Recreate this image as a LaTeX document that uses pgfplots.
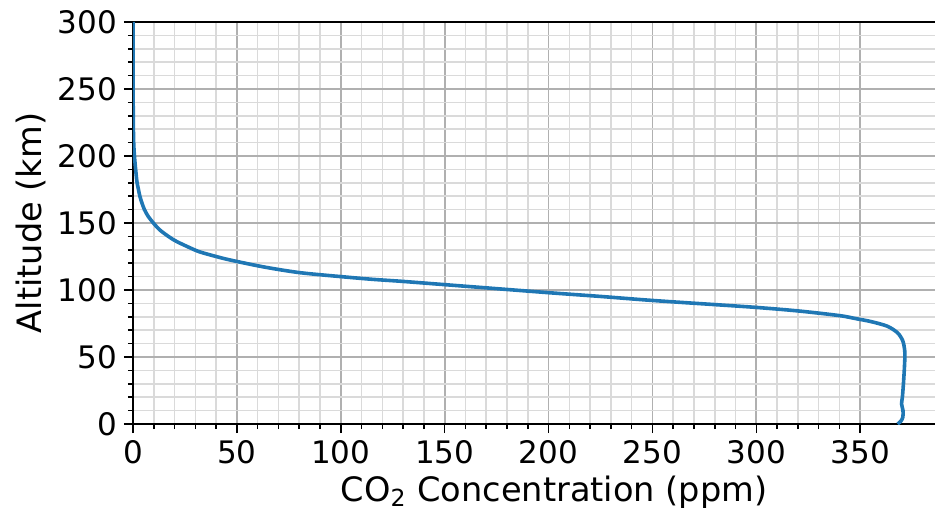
\documentclass[border=0pt]{standalone}
\usepackage{fontspec}
\setmainfont{DejaVu Sans}
\usepackage{pgfplots}
\pgfplotsset{compat=1.18}
\definecolor{tabblue}{HTML}{1F77B4}
\definecolor{majgrid}{HTML}{B0B0B0}
\definecolor{mingrid}{HTML}{DADADA}
\begin{document}
\begin{tikzpicture}
\begin{axis}[
  scale only axis,
  width=401pt, height=201pt,
  xmin=0, xmax=386, ymin=0, ymax=300,
  axis x line=box, axis y line=left,
  y axis line style={-, line width=1pt},
  x axis line style={line width=1pt},
  xtick pos=left, ytick pos=left,
  xtick={0,50,...,350}, ytick={0,50,...,300},
  minor x tick num=4, minor y tick num=4,
  tick align=outside,
  major tick length=4.5pt, minor tick length=2.6pt,
  every tick/.style={black, line width=0.8pt},
  grid=both,
  major grid style={majgrid, line width=0.9pt},
  minor grid style={mingrid, line width=0.8pt},
  /pgf/number format/assume math mode=true,
  ticklabel style={font=\fontsize{15.5}{18}\selectfont},
  label style={font=\fontsize{16.8}{19}\selectfont},
  xlabel={CO\textsubscript{2} Concentration (ppm)},
  ylabel={Altitude (km)},
  xlabel style={at={(axis description cs:0.525,0)}, anchor=base, yshift=-38.5pt},
  ylabel style={at={(axis description cs:-0.1135,0.5)}, anchor=base},
  clip=true,
]
\addplot[tabblue, line width=1.8pt, smooth, tension=0.5] coordinates {
(368,0) (369.5,2) (370.5,5) (370.6,10) (369.9,15) (370.3,20) (370.8,30) (371.2,40) (371.5,50) (371.4,55)
(370.5,62) (368,68) (363,73) (355,76.5) (348,78.6) (340,80.9) (320,84.4) (300,87) (282,88.9) (250,92.2)
(225,95.2) (200,98) (175,101) (150,104) (130,106.4) (115,108) (100,110) (80,113) (63,117.2) (47,122.3)
(40,125) (32,128.5) (27,131.8) (21,136.2) (17.5,139.5) (13,144.7) (9.8,150) (7.3,155) (5.5,160) (4.3,165)
(3.3,170) (2.5,176) (1.8,182) (0.7,200) (0.25,215) (0.05,250) (0,300)
};
\coordinate (SW) at (rel axis cs:0,0);
\coordinate (NE) at (rel axis cs:1,1);
\end{axis}
\pgfresetboundingbox
\path ([xshift=-66.5pt, yshift=-45pt]SW) rectangle ([yshift=11pt]NE);
\end{tikzpicture}
\end{document}
